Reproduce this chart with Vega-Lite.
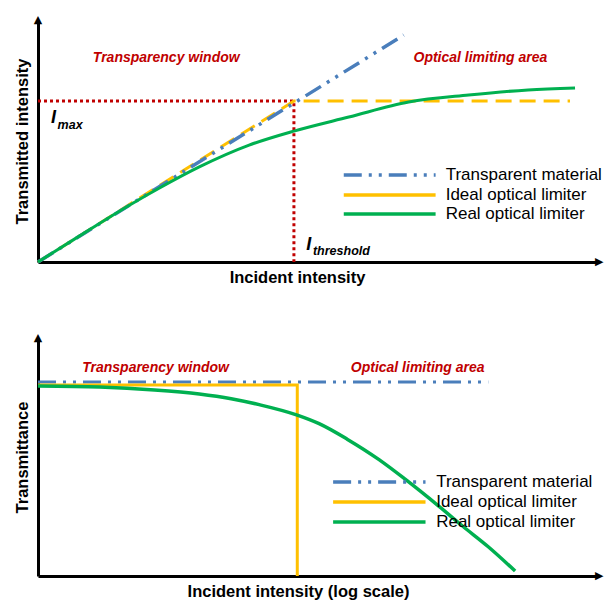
{
  "$schema": "https://vega.github.io/schema/vega-lite/v6.json",
  "padding": {"left": 14, "top": 14, "right": 0, "bottom": 0},
  "spacing": 46,
  "datasets": {
    "top_threshold": [{"x": 0, "y": 66.5}, {"x": 45.7, "y": 66.5}, {"x": 45.7, "y": 0}],
    "top_transparent": [{"x": 0, "y": 0}, {"x": 65.3, "y": 93.8}],
    "top_ideal": [{"x": 0, "y": 0}, {"x": 45.7, "y": 66.5}, {"x": 95.0, "y": 66.5}],
    "top_real": [
      {"x": 0, "y": 0}, {"x": 7.5, "y": 10.9}, {"x": 14.6, "y": 21.1}, {"x": 21.7, "y": 30.6},
      {"x": 28.8, "y": 39.3}, {"x": 37.7, "y": 48.3}, {"x": 45.7, "y": 54.1}, {"x": 55.5, "y": 59.9},
      {"x": 66.2, "y": 66.1}, {"x": 76.9, "y": 69.0}, {"x": 87.5, "y": 71.1}, {"x": 95.9, "y": 71.9}
    ],
    "bottom_transparent": [{"x": 0, "y": 81.5}, {"x": 80.4, "y": 81.5}],
    "bottom_ideal": [{"x": 0, "y": 80.3}, {"x": 46.3, "y": 80.3}, {"x": 46.3, "y": 0}],
    "bottom_real": [
      {"x": 0, "y": 79.8}, {"x": 11.0, "y": 79.4}, {"x": 20.8, "y": 78.2}, {"x": 28.8, "y": 76.5},
      {"x": 34.5, "y": 74.5}, {"x": 39.5, "y": 72.0}, {"x": 46.3, "y": 67.6}, {"x": 50.2, "y": 64.0},
      {"x": 55.2, "y": 57.5}, {"x": 60.9, "y": 48.9}, {"x": 65.5, "y": 40.8}, {"x": 71.5, "y": 29.5},
      {"x": 75.8, "y": 21.0}, {"x": 80.4, "y": 12.3}, {"x": 85.2, "y": 2.1}
    ]
  },
  "vconcat": [
    {
      "width": 560,
      "height": 242,
      "layer": [
        {"data": {"name": "top_threshold"}, "mark": {"type": "line", "color": "#C00000", "strokeWidth": 3, "strokeDash": [3, 3]},
         "encoding": {
           "x": {"field": "x", "type": "quantitative", "scale": {"domain": [0, 100]}, "axis": {"title": "Incident intensity", "titleX": 259}},
           "y": {"field": "y", "type": "quantitative", "scale": {"domain": [0, 100]}, "axis": {"title": "Transmitted intensity"}},
           "order": {"value": null}}},
        {"data": {"name": "top_ideal"}, "mark": {"type": "line", "color": "#FFC000", "strokeWidth": 3, "strokeDash": [16, 8]},
         "encoding": {"x": {"field": "x", "type": "quantitative"}, "y": {"field": "y", "type": "quantitative"}, "order": {"value": null}}},
        {"data": {"name": "top_transparent"}, "mark": {"type": "line", "color": "#4A7EBB", "strokeWidth": 3.5, "strokeDash": [18, 7, 3, 7, 3, 7]},
         "encoding": {"x": {"field": "x", "type": "quantitative"}, "y": {"field": "y", "type": "quantitative"}, "order": {"value": null}}},
        {"data": {"name": "top_real"}, "mark": {"type": "line", "color": "#00B050", "strokeWidth": 3, "interpolate": "monotone"},
         "encoding": {"x": {"field": "x", "type": "quantitative"}, "y": {"field": "y", "type": "quantitative"}, "order": {"value": null}}},
        {"data": {"values": [{"a": 1}]}, "mark": {"type": "text", "color": "#000", "font": "DejaVu Sans", "fontSize": 11, "align": "center", "baseline": "alphabetic", "dy": 3}, "encoding": {"x": {"datum": 0.001}, "y": {"datum": 100}, "text": {"value": "▲"}}},
        {"data": {"values": [{"a": 1}]}, "mark": {"type": "text", "color": "#000", "font": "DejaVu Sans", "fontSize": 11, "align": "left", "baseline": "middle", "dx": -3}, "encoding": {"x": {"datum": 100}, "y": {"datum": 0.001}, "text": {"value": "▶"}}},
        {"data": {"values": [{"a": 1}]}, "mark": {"type": "text", "color": "#C00000", "font": "Liberation Sans", "fontSize": 14, "fontWeight": "bold", "fontStyle": "italic", "align": "center", "baseline": "middle"}, "encoding": {"x": {"datum": 22.9}, "y": {"datum": 84.3}, "text": {"value": "Transparency window"}}},
        {"data": {"values": [{"a": 1}]}, "mark": {"type": "text", "color": "#C00000", "font": "Liberation Sans", "fontSize": 14, "fontWeight": "bold", "fontStyle": "italic", "align": "center", "baseline": "middle"}, "encoding": {"x": {"datum": 79.0}, "y": {"datum": 84.3}, "text": {"value": "Optical limiting area"}}},
        {"data": {"values": [{"a": 1}]}, "mark": {"type": "text", "color": "#000", "font": "Liberation Sans", "fontSize": 18, "fontWeight": "bold", "fontStyle": "italic", "align": "left", "baseline": "alphabetic"}, "encoding": {"x": {"datum": 2.3}, "y": {"datum": 57.3}, "text": {"value": "I"}}},
        {"data": {"values": [{"a": 1}]}, "mark": {"type": "text", "color": "#000", "font": "Liberation Sans", "fontSize": 12.5, "fontWeight": "bold", "fontStyle": "italic", "align": "left", "baseline": "alphabetic"}, "encoding": {"x": {"datum": 3.5}, "y": {"datum": 55.1}, "text": {"value": "max"}}},
        {"data": {"values": [{"a": 1}]}, "mark": {"type": "text", "color": "#000", "font": "Liberation Sans", "fontSize": 18, "fontWeight": "bold", "fontStyle": "italic", "align": "left", "baseline": "alphabetic"}, "encoding": {"x": {"datum": 47.9}, "y": {"datum": 5.0}, "text": {"value": "I"}}},
        {"data": {"values": [{"a": 1}]}, "mark": {"type": "text", "color": "#000", "font": "Liberation Sans", "fontSize": 12.5, "fontWeight": "bold", "fontStyle": "italic", "align": "left", "baseline": "alphabetic"}, "encoding": {"x": {"datum": 49.1}, "y": {"datum": 2.9}, "text": {"value": "threshold"}}},
        {"data": {"values": [{"a": 1}]}, "mark": {"type": "rule", "color": "#4A7EBB", "strokeWidth": 3.5, "strokeDash": [18, 7, 3, 7, 3, 7]}, "encoding": {"x": {"datum": 54.6}, "x2": {"datum": 71.0}, "y": {"datum": 36.0}}},
        {"data": {"values": [{"a": 1}]}, "mark": {"type": "rule", "color": "#FFC000", "strokeWidth": 3.5}, "encoding": {"x": {"datum": 54.6}, "x2": {"datum": 71.0}, "y": {"datum": 27.7}}},
        {"data": {"values": [{"a": 1}]}, "mark": {"type": "rule", "color": "#00B050", "strokeWidth": 3.5}, "encoding": {"x": {"datum": 54.6}, "x2": {"datum": 71.0}, "y": {"datum": 19.8}}},
        {"data": {"values": [{"a": 1}]}, "mark": {"type": "text", "color": "#000", "font": "Liberation Sans", "fontSize": 17, "align": "left", "baseline": "middle"}, "encoding": {"x": {"datum": 72.8}, "y": {"datum": 36.0}, "text": {"value": "Transparent material"}}},
        {"data": {"values": [{"a": 1}]}, "mark": {"type": "text", "color": "#000", "font": "Liberation Sans", "fontSize": 17, "align": "left", "baseline": "middle"}, "encoding": {"x": {"datum": 72.8}, "y": {"datum": 27.7}, "text": {"value": "Ideal optical limiter"}}},
        {"data": {"values": [{"a": 1}]}, "mark": {"type": "text", "color": "#000", "font": "Liberation Sans", "fontSize": 17, "align": "left", "baseline": "middle"}, "encoding": {"x": {"datum": 72.8}, "y": {"datum": 19.8}, "text": {"value": "Real optical limiter"}}}
      ]
    },
    {
      "width": 560,
      "height": 238,
      "layer": [
        {"data": {"name": "bottom_transparent"}, "mark": {"type": "line", "color": "#4A7EBB", "strokeWidth": 3, "strokeDash": [18, 7, 3, 7, 3, 7]},
         "encoding": {
           "x": {"field": "x", "type": "quantitative", "scale": {"domain": [0, 100]}, "axis": {"title": "Incident intensity (log scale)", "titleX": 260}},
           "y": {"field": "y", "type": "quantitative", "scale": {"domain": [0, 100]}, "axis": {"title": "Transmittance"}},
           "order": {"value": null}}},
        {"data": {"name": "bottom_ideal"}, "mark": {"type": "line", "color": "#FFC000", "strokeWidth": 3},
         "encoding": {"x": {"field": "x", "type": "quantitative"}, "y": {"field": "y", "type": "quantitative"}, "order": {"value": null}}},
        {"data": {"name": "bottom_real"}, "mark": {"type": "line", "color": "#00B050", "strokeWidth": 3.5, "interpolate": "monotone"},
         "encoding": {"x": {"field": "x", "type": "quantitative"}, "y": {"field": "y", "type": "quantitative"}, "order": {"value": null}}},
        {"data": {"values": [{"a": 1}]}, "mark": {"type": "text", "color": "#000", "font": "DejaVu Sans", "fontSize": 11, "align": "center", "baseline": "alphabetic", "dy": 3}, "encoding": {"x": {"datum": 0.001}, "y": {"datum": 100}, "text": {"value": "▲"}}},
        {"data": {"values": [{"a": 1}]}, "mark": {"type": "text", "color": "#000", "font": "DejaVu Sans", "fontSize": 11, "align": "left", "baseline": "middle", "dx": -3}, "encoding": {"x": {"datum": 100}, "y": {"datum": 0.001}, "text": {"value": "▶"}}},
        {"data": {"values": [{"a": 1}]}, "mark": {"type": "text", "color": "#C00000", "font": "Liberation Sans", "fontSize": 14, "fontWeight": "bold", "fontStyle": "italic", "align": "center", "baseline": "middle"}, "encoding": {"x": {"datum": 21.0}, "y": {"datum": 87.4}, "text": {"value": "Transparency window"}}},
        {"data": {"values": [{"a": 1}]}, "mark": {"type": "text", "color": "#C00000", "font": "Liberation Sans", "fontSize": 14, "fontWeight": "bold", "fontStyle": "italic", "align": "center", "baseline": "middle"}, "encoding": {"x": {"datum": 67.8}, "y": {"datum": 87.4}, "text": {"value": "Optical limiting area"}}},
        {"data": {"values": [{"a": 1}]}, "mark": {"type": "rule", "color": "#4A7EBB", "strokeWidth": 3.5, "strokeDash": [18, 7, 3, 7, 3, 7]}, "encoding": {"x": {"datum": 52.7}, "x2": {"datum": 69.2}, "y": {"datum": 39.5}}},
        {"data": {"values": [{"a": 1}]}, "mark": {"type": "rule", "color": "#FFC000", "strokeWidth": 3.5}, "encoding": {"x": {"datum": 52.7}, "x2": {"datum": 69.2}, "y": {"datum": 31.1}}},
        {"data": {"values": [{"a": 1}]}, "mark": {"type": "rule", "color": "#00B050", "strokeWidth": 3.5}, "encoding": {"x": {"datum": 52.7}, "x2": {"datum": 69.2}, "y": {"datum": 22.7}}},
        {"data": {"values": [{"a": 1}]}, "mark": {"type": "text", "color": "#000", "font": "Liberation Sans", "fontSize": 17, "align": "left", "baseline": "middle"}, "encoding": {"x": {"datum": 71.1}, "y": {"datum": 39.5}, "text": {"value": "Transparent material"}}},
        {"data": {"values": [{"a": 1}]}, "mark": {"type": "text", "color": "#000", "font": "Liberation Sans", "fontSize": 17, "align": "left", "baseline": "middle"}, "encoding": {"x": {"datum": 71.1}, "y": {"datum": 31.1}, "text": {"value": "Ideal optical limiter"}}},
        {"data": {"values": [{"a": 1}]}, "mark": {"type": "text", "color": "#000", "font": "Liberation Sans", "fontSize": 17, "align": "left", "baseline": "middle"}, "encoding": {"x": {"datum": 71.1}, "y": {"datum": 22.7}, "text": {"value": "Real optical limiter"}}}
      ]
    }
  ],
  "config": {
    "view": {"stroke": null},
    "axis": {"grid": false, "ticks": false, "labels": false, "domainColor": "#000", "domainWidth": 3, "titleFont": "Liberation Sans", "titleFontSize": 16.5, "titleFontWeight": "bold", "titleColor": "#000"},
    "axisX": {"titlePadding": 7},
    "axisY": {"titlePadding": 8}
  }
}
